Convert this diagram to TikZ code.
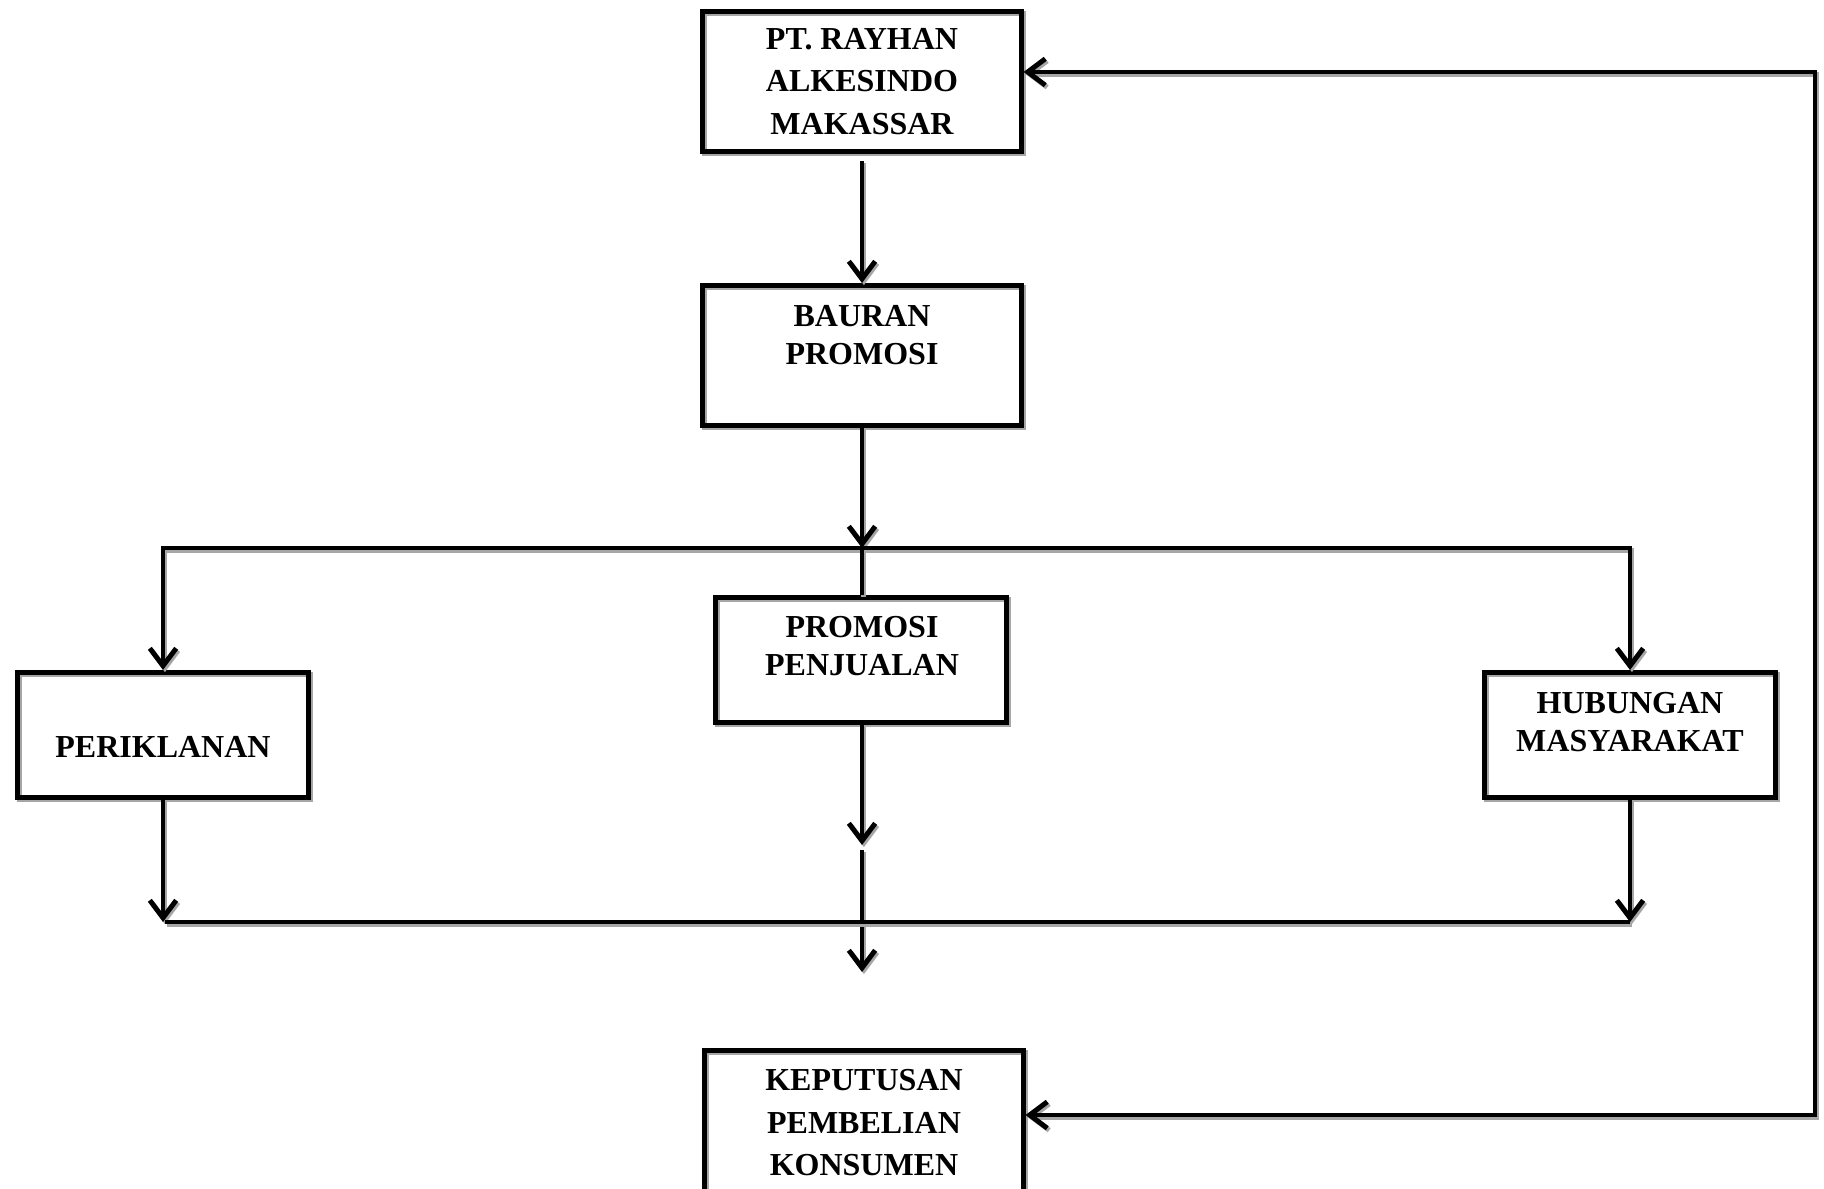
\documentclass[tikz,border=0pt]{standalone}
\usepackage{fontspec}
\setmainfont{Liberation Serif}
\usetikzlibrary{arrows.meta,positioning}
\tikzset{
  shd/.style={preaction={draw=black!35, transform canvas={shift={(0.55pt,-0.6pt)}}}},
  box/.style={draw, shd, line width=1.4pt, inner sep=0pt, align=center},
  lbl/.style={align=center, inner sep=0pt, anchor=north},
  two/.style={font=\fontsize{9.1}{10.8}\selectfont\bfseries},
  three/.style={font=\fontsize{9.1}{12.1}\selectfont\bfseries}
}
\begin{document}
\begin{tikzpicture}[x=0.01cm, y=-0.01cm, >={Straight Barb[length=5pt,width=7.5pt]},
  line width=1.4pt, font=\fontsize{9.1}{11.4}\selectfont\bfseries,
  wbox/.style={box, minimum width=3.18cm, minimum height=1.40cm},
  sbox/.style={box, minimum width=2.91cm, minimum height=1.25cm}]
\useasboundingbox (0,0) rectangle (1824,1189);
\node[wbox, three] (pt) at (862,81.5) {PT. RAYHAN\\ALKESINDO\\MAKASSAR};
\node[wbox] (bp) at (862,355.5) {};
\node[lbl, two] (bpt) at (862,303) {BAURAN\\PROMOSI};
\node[sbox] (pp) at (861,660) {};
\node[lbl, two] (ppt) at (862,614) {PROMOSI\\PENJUALAN};
\node[sbox] (pr) at (163,735) {};
\node[lbl] (prt) at (163,734) {PERIKLANAN};
\node[sbox] (hm) at (1630,735) {};
\node[lbl, two] (hmt) at (1630,690) {HUBUNGAN\\MASYARAKAT};
\node[wbox, minimum height=1.70cm] (kp) at (864,1135.5) {};
\node[lbl, three] (kpt) at (864,1067) {KEPUTUSAN\\PEMBELIAN\\KONSUMEN};
\coordinate (sp) at (862,548);
\coordinate (m1) at (862,845); \coordinate (m2) at (862,850); \coordinate (m3) at (862,972);
\coordinate (bl) at (165,922); \coordinate (br) at (1630,922);
\coordinate (rt) at (1815,72); \coordinate (rb) at (1815,1115);
\draw[->, shd, shorten <=2pt] (pt) -- (bp);
\draw[->, shd] (bp) -- (sp);
\draw[->, shd] (sp) -| (pr.north);
\draw[->, shd] (sp) -| (hm.north);
\draw[shd] (sp) -- (sp |- pp.north);
\draw[->, shd] (sp |- pp.south) -- (m1);
\draw[->, shd] (m2) -- (m3);
\draw[->, shd] (pr.south) -- (pr.south |- bl);
\draw[->, shd] (hm.south) -- (hm.south |- br);
\draw[shd] (bl) -- (br);
\draw[<->, shd] (rt -| pt.east) -- (rt) -- (rb) -- (rb -| kp.east);
\end{tikzpicture}
\end{document}
